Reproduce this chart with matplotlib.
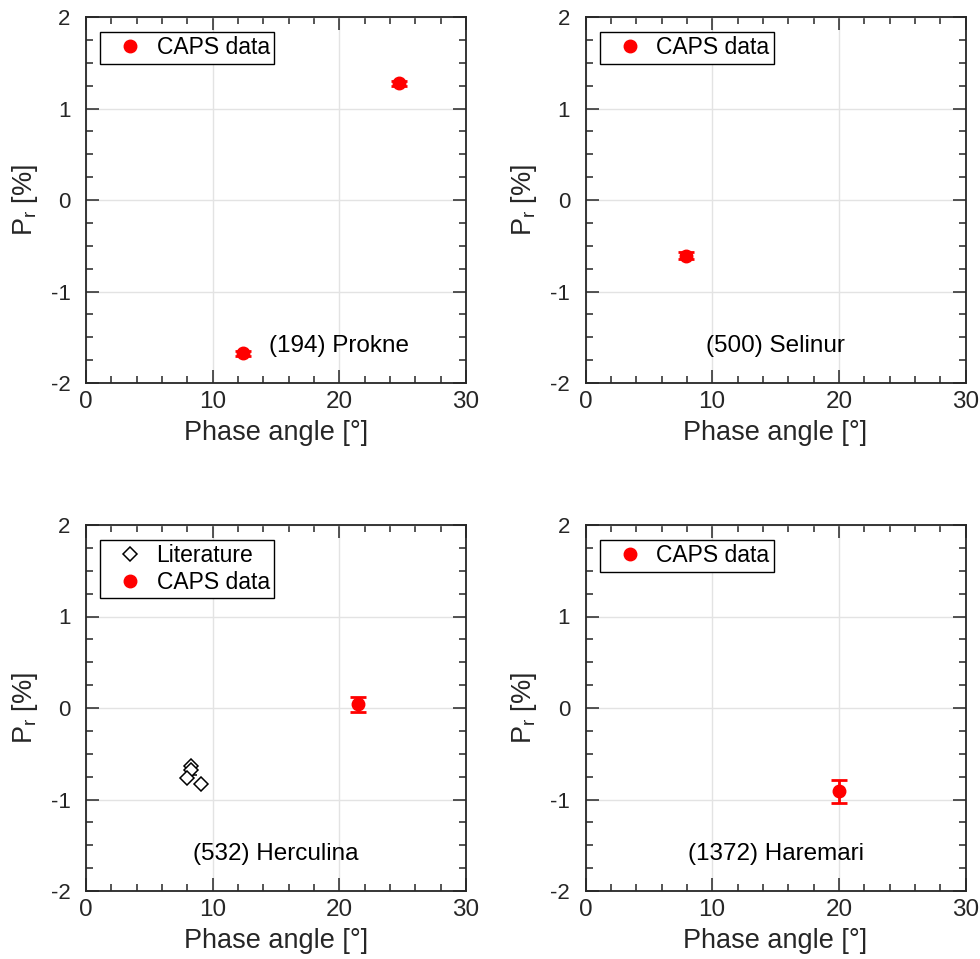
import matplotlib
matplotlib.use("Agg")
import matplotlib.pyplot as plt
from matplotlib.ticker import MultipleLocator

plt.rcParams['font.family'] = ['Liberation Sans', 'DejaVu Sans']
plt.rcParams['mathtext.fontset'] = 'custom'
plt.rcParams['mathtext.rm'] = 'Liberation Sans'
plt.rcParams['axes.unicode_minus'] = False

# CAPS measurements per asteroid: phase angle [deg], Pr [%], error [%]
prokne_alpha = [12.4, 24.7]
prokne_pr = [-1.675, 1.275]
prokne_err = [0.03, 0.03]

selinur_alpha = [7.95]
selinur_pr = [-0.61]
selinur_err = [0.04]

herculina_alpha = [21.5]
herculina_pr = [0.04]
herculina_err = [0.085]

haremari_alpha = [20.0]
haremari_pr = [-0.91]
haremari_err = [0.125]

# Literature polarimetry for (532) Herculina
lit_alpha = [8.3, 8.3, 8.0, 9.1]
lit_pr = [-0.63, -0.68, -0.77, -0.83]
lit_err = [0.0, 0.05, 0.0, 0.0]

names = ["(194) Prokne", "(500) Selinur", "(532) Herculina", "(1372) Haremari"]
name_x = [20, 15, 15, 15]
name_y = -1.6

caps = [
    (prokne_alpha, prokne_pr, prokne_err),
    (selinur_alpha, selinur_pr, selinur_err),
    (herculina_alpha, herculina_pr, herculina_err),
    (haremari_alpha, haremari_pr, haremari_err),
]

W, H = 980, 959
fig = plt.figure(figsize=(W / 100, H / 100), dpi=100)

boxes = [(86, 17), (585.5, 17), (86, 525), (585.5, 525)]
aw, ah = 380, 366
spine_col = '#262626'

for i, (px, py) in enumerate(boxes):
    ax = fig.add_axes([px / W, 1 - (py + ah) / H, aw / W, ah / H])
    ax.set_xlim(0, 30)
    ax.set_ylim(-2, 2)
    ax.xaxis.set_major_locator(MultipleLocator(10))
    ax.xaxis.set_minor_locator(MultipleLocator(2))
    ax.yaxis.set_major_locator(MultipleLocator(1))
    ax.yaxis.set_minor_locator(MultipleLocator(0.25))
    ax.grid(True, which='major', color='#e3e3e3', lw=1.0)
    ax.set_axisbelow(True)
    for s in ax.spines.values():
        s.set_color(spine_col)
        s.set_linewidth(1.3)
    ax.tick_params(which='both', direction='in', top=True, right=True,
                   color=spine_col, width=1.1)
    ax.tick_params(which='major', length=9.5)
    ax.tick_params(which='minor', length=5)
    ax.tick_params(axis='x', labelsize=17.5, labelcolor=spine_col, pad=6)
    ax.tick_params(axis='y', labelsize=16, labelcolor=spine_col, pad=11)

    handles = []
    labels = []
    if i == 2:
        ax.errorbar(lit_alpha, lit_pr, yerr=lit_err, fmt='D', ms=7,
                    mfc='white', mec='black', mew=1.1, ecolor='black',
                    elinewidth=1.0, capsize=4, zorder=3)
        h_lit, = ax.plot([], [], 'D', ms=7.5, mfc='white', mec='black', mew=1.1)
        handles.append(h_lit)
        labels.append('Literature')

    a, p, e = caps[i]
    ax.errorbar(a, p, yerr=e, fmt='o', ms=9, color='#ff0000', ecolor='#ff0000',
                elinewidth=2.0, capsize=6, capthick=2.0, zorder=4)
    h_caps, = ax.plot([], [], 'o', ms=9, color='#ff0000')
    handles.append(h_caps)
    labels.append('CAPS data')

    leg = ax.legend(handles, labels, loc='upper left', fontsize=16.5,
                    bbox_to_anchor=(0.038, 0.96), borderaxespad=0,
                    fancybox=False, framealpha=1, edgecolor='black',
                    handlelength=2.2, handletextpad=0.05, borderpad=0.2,
                    labelspacing=0.15)
    leg.get_frame().set_linewidth(1.0)

    ax.text(name_x[i], name_y, names[i], ha='center', va='center',
            fontsize=17.5, color='black')

    ax.set_xlabel('Phase angle [°]', fontsize=19.5, color=spine_col, labelpad=5)
    ax.set_ylabel(r'P$_\mathrm{r}$ [%]', fontsize=19.5, color=spine_col, labelpad=8)

fig.savefig('out.png', dpi=100)
